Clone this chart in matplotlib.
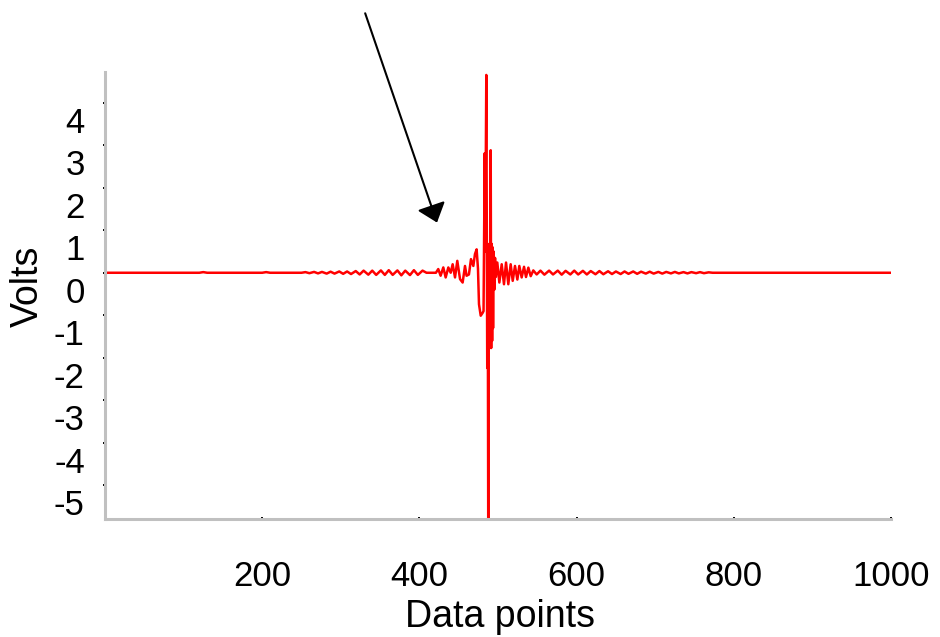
import matplotlib

matplotlib.use("Agg")

import matplotlib.pyplot as plt
from matplotlib.ticker import MultipleLocator
from matplotlib.transforms import ScaledTranslation

plt.rcParams["font.family"] = ["Liberation Sans", "DejaVu Sans"]

# flat start of the record
quiet_x = [0, 120, 125, 130, 200, 205, 210, 250]
quiet_y = [0, 0, 0.015, 0, 0, 0.015, 0, 0]

# small ripple leading up to the burst
lead_x = [255, 260, 266, 271, 276, 282, 287, 292, 298, 303, 308, 313, 319, 324, 329, 335,
          340, 345, 351, 356, 361, 366, 372, 377, 382, 388, 393, 398, 404, 409, 421]
lead_y = [0.015, -0.01, 0.02, -0.015, 0.02, -0.02, 0.025, -0.02, 0.03, -0.025, 0.03, -0.03,
          0.04, -0.04, 0.05, -0.045, 0.05, -0.05, 0.055, -0.05, 0.06, -0.05, 0.055, -0.06,
          0.05, -0.055, 0.06, -0.05, 0.05, 0.0, 0.0]

# growing precursor
build_x = [424, 427, 430.4, 433.4, 436.8, 439.8, 442.3, 445.3, 448.2, 451.7, 455, 458, 460,
           463, 465.6, 468.6, 470.7, 472.8, 474.5, 475.8, 478, 480.5]
build_y = [0.087, -0.07, 0.125, -0.11, 0.125, 0.0, 0.2, -0.11, 0.28, -0.15, -0.23, 0.16,
           -0.07, -0.04, 0.32, 0.16, 0.44, 0.55, 0.1, -0.74, -1.01, -0.94]

# main spike
burst_x = [481.6, 482.3, 483.1, 483.8, 485.1, 485.7, 486.3, 486.9, 487.6, 488.3, 488.9, 489.5,
           490.1, 490.7, 491.3, 491.9, 492.5, 493.1, 493.7, 494.4, 495.2, 496.2, 497.2]
burst_y = [-0.9, 0.75, 2.81, 0.5, 4.65, 1.5, -2.24, 0.6, -6.5, -1.2, 0.68, -1.77, 0.3, 2.88,
           -1.77, 0.68, -1.6, 0.6, -1.3, 0.5, -0.4, 0.35, -0.1]

# decaying ringing afterwards
tail_x = [499.1, 501.7, 504.7, 507.6, 510.2, 513.1, 516.1, 518.7, 521.6, 524.6, 527.1, 530.1,
          533.1, 535.6, 538.6, 541.6, 544.9, 549.2, 554, 559, 565, 570, 576, 581, 586, 592,
          597, 602, 608, 613, 618, 624, 629, 634, 640, 645, 650, 656, 661, 666, 672, 677,
          682, 688, 693, 698, 704, 709, 714, 720, 725, 730, 736, 741, 746, 752, 757, 762,
          768, 773, 780, 1000]
tail_y = [0.24, -0.23, 0.2, -0.27, 0.24, -0.27, 0.2, -0.19, 0.16, -0.16, 0.16, -0.11, 0.14,
          -0.1, 0.12, -0.08, 0.055, -0.04, 0.05, -0.045, 0.05, -0.04, 0.05, -0.045, 0.045,
          -0.04, 0.05, -0.04, 0.045, -0.04, 0.04, -0.035, 0.04, -0.035, 0.035, -0.03, 0.03,
          -0.03, 0.03, -0.025, 0.03, -0.025, 0.025, -0.02, 0.025, -0.02, 0.02, -0.02, 0.02,
          -0.015, 0.02, -0.015, 0.015, -0.015, 0.015, -0.01, 0.015, -0.01, 0.01, 0.0, 0.0, 0.0]

x_ticks = [0, 200, 400, 600, 800, 1000]
x_labels = ["", "200", "400", "600", "800", "1000"]
y_ticks = [-5, -4, -3, -2, -1, 0, 1, 2, 3, 4]

points_x = quiet_x + lead_x + build_x + burst_x + tail_x
volts = quiet_y + lead_y + build_y + burst_y + tail_y

fig = plt.figure(figsize=(9.4, 6.37), dpi=100)
ax = fig.add_axes([0.1117, 0.1845, 0.8362, 0.7025])

ax.plot(points_x, volts, color="#ff0000", linewidth=1.8)

ax.set_xlim(0, 1000)
ax.set_ylim(-5.8, 4.72)

ax.set_xticks(x_ticks)
ax.set_xticklabels(x_labels)
ax.xaxis.set_minor_locator(MultipleLocator(50))
ax.set_yticks(y_ticks)
ax.set_yticklabels([str(v) for v in y_ticks])
ax.yaxis.set_minor_locator(MultipleLocator(0.2))

for side in ("top", "right"):
    ax.spines[side].set_visible(False)
for side in ("left", "bottom"):
    ax.spines[side].set_color("#c0c0c0")
    ax.spines[side].set_linewidth(2.2)

ax.tick_params(which="major", direction="inout", length=3, width=1.4, color="black", labelsize=25)
ax.tick_params(which="minor", direction="inout", length=1.5, width=1.2, color="black")
ax.tick_params(axis="x", which="major", pad=28)
ax.tick_params(axis="y", which="major", pad=13)

# the y labels sit about half a step under their ticks in the original
shift = ScaledTranslation(0, -17 / 100, fig.dpi_scale_trans)
for label in ax.get_yticklabels():
    label.set_transform(label.get_transform() + shift)

fig.text(500 / 940, 1 - 617 / 637, "Data points", ha="center", va="center", fontsize=27)
fig.text(28 / 940, 1 - 286 / 637, "Volts", ha="center", va="center", rotation=90, fontsize=27)

ax.annotate(
    "",
    xy=(422.4, 1.18),
    xytext=(331, 6.1),
    arrowprops=dict(arrowstyle="-|>,head_length=0.55,head_width=0.45", color="black",
                    lw=1.5, mutation_scale=20, shrinkA=0, shrinkB=0),
    annotation_clip=False,
)

fig.savefig("out.png", dpi=100, facecolor="white")
plt.close(fig)
